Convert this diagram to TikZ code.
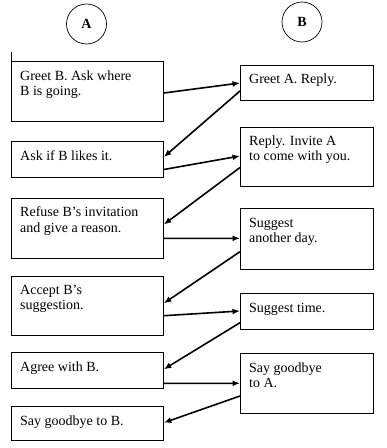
\documentclass[tikz,border=0pt]{standalone}
\usepackage{fontspec}
\setmainfont{Liberation Serif}
\usetikzlibrary{arrows.meta}
\begin{document}
\begin{tikzpicture}[x=1bp,y=-1bp,
  box/.style={draw,line width=0.8bp,inner sep=0pt,anchor=north west},
  abox/.style={box,minimum width=152bp},
  bbox/.style={box,minimum width=133bp},
  who/.style={draw,circle,line width=0.7bp,minimum size=40bp,inner sep=0pt,font=\fontsize{14bp}{16bp}\selectfont\bfseries},
  arr/.style={line width=1.6bp,-{Latex[length=7.5bp,width=6bp]}},
  txt/.style={label={[anchor=base west,inner sep=0pt,xshift=9bp,yshift=-19bp,font=\fontsize{14bp}{15bp}\selectfont]north west:\parbox[t]{140bp}{\raggedright #1}}}
]
\useasboundingbox (0,0) rectangle (386,448);
\node[who] (ca) at (86.5,24) {A};
\node[who] (cb) at (302,22) {B};

\node[abox,minimum height=59.5bp,txt={Greet B. Ask where\\B is going.}] (a1) at (11,61.5) {};
\node[abox,minimum height=36bp,txt={Ask if B likes it.}] (a2) at (11,141.5) {};
\node[abox,minimum height=60bp,txt={Refuse B’s invitation\\and give a reason.}] (a3) at (11,198) {};
\node[abox,minimum height=59.5bp,txt={Accept B’s\\suggestion.}] (a4) at (11,275.5) {};
\node[abox,minimum height=36bp,txt={Agree with B.}] (a5) at (11,352) {};
\node[abox,minimum height=34bp,txt={Say goodbye to B.}] (a6) at (11,406) {};

\node[bbox,minimum height=35bp,txt={Greet A. Reply.}] (b1) at (240,65) {};
\node[bbox,minimum height=59bp,txt={Reply. Invite A\\to come with you.}] (b2) at (240,127) {};
\node[bbox,minimum height=61bp,txt={Suggest\\another day.}] (b3) at (240,208) {};
\node[bbox,minimum height=36bp,txt={Suggest time.}] (b4) at (240,293) {};
\node[bbox,minimum height=60bp,txt={Say goodbye\\to A.}] (b5) at (240,353) {};

\draw[line width=0.8bp] (a1.north west) -- ++(0,-9);

\draw[arr] ([yshift=-31.5bp]a1.north east) -- ([yshift=-18bp]b1.north west);
\draw[arr] ([yshift=-26bp]b1.north west) -- ([yshift=-15.5bp]a2.north east);
\draw[arr] ([yshift=-28bp]a2.north east) -- ([yshift=-29bp]b2.north west);
\draw[arr] ([yshift=-40.5bp]b2.north west) -- ([yshift=-26.5bp]a3.north east);
\draw[arr] ([yshift=-40.3bp]a3.north east) -- ([yshift=-30.3bp]b3.north west);
\draw[arr] ([yshift=-43.7bp]b3.north west) -- ([yshift=-27.8bp]a4.north east);
\draw[arr] ([yshift=-40.2bp]a4.north east) -- ([yshift=-18bp]b4.north west);
\draw[arr] ([yshift=-29.7bp]b4.north west) -- ([yshift=-17.3bp]a5.north east);
\draw[arr] ([yshift=-31.3bp]a5.north east) -- ([yshift=-30.3bp]b5.north west);
\draw[arr] ([yshift=-43bp]b5.north west) -- ([yshift=-16.7bp]a6.north east);
\end{tikzpicture}
\end{document}
